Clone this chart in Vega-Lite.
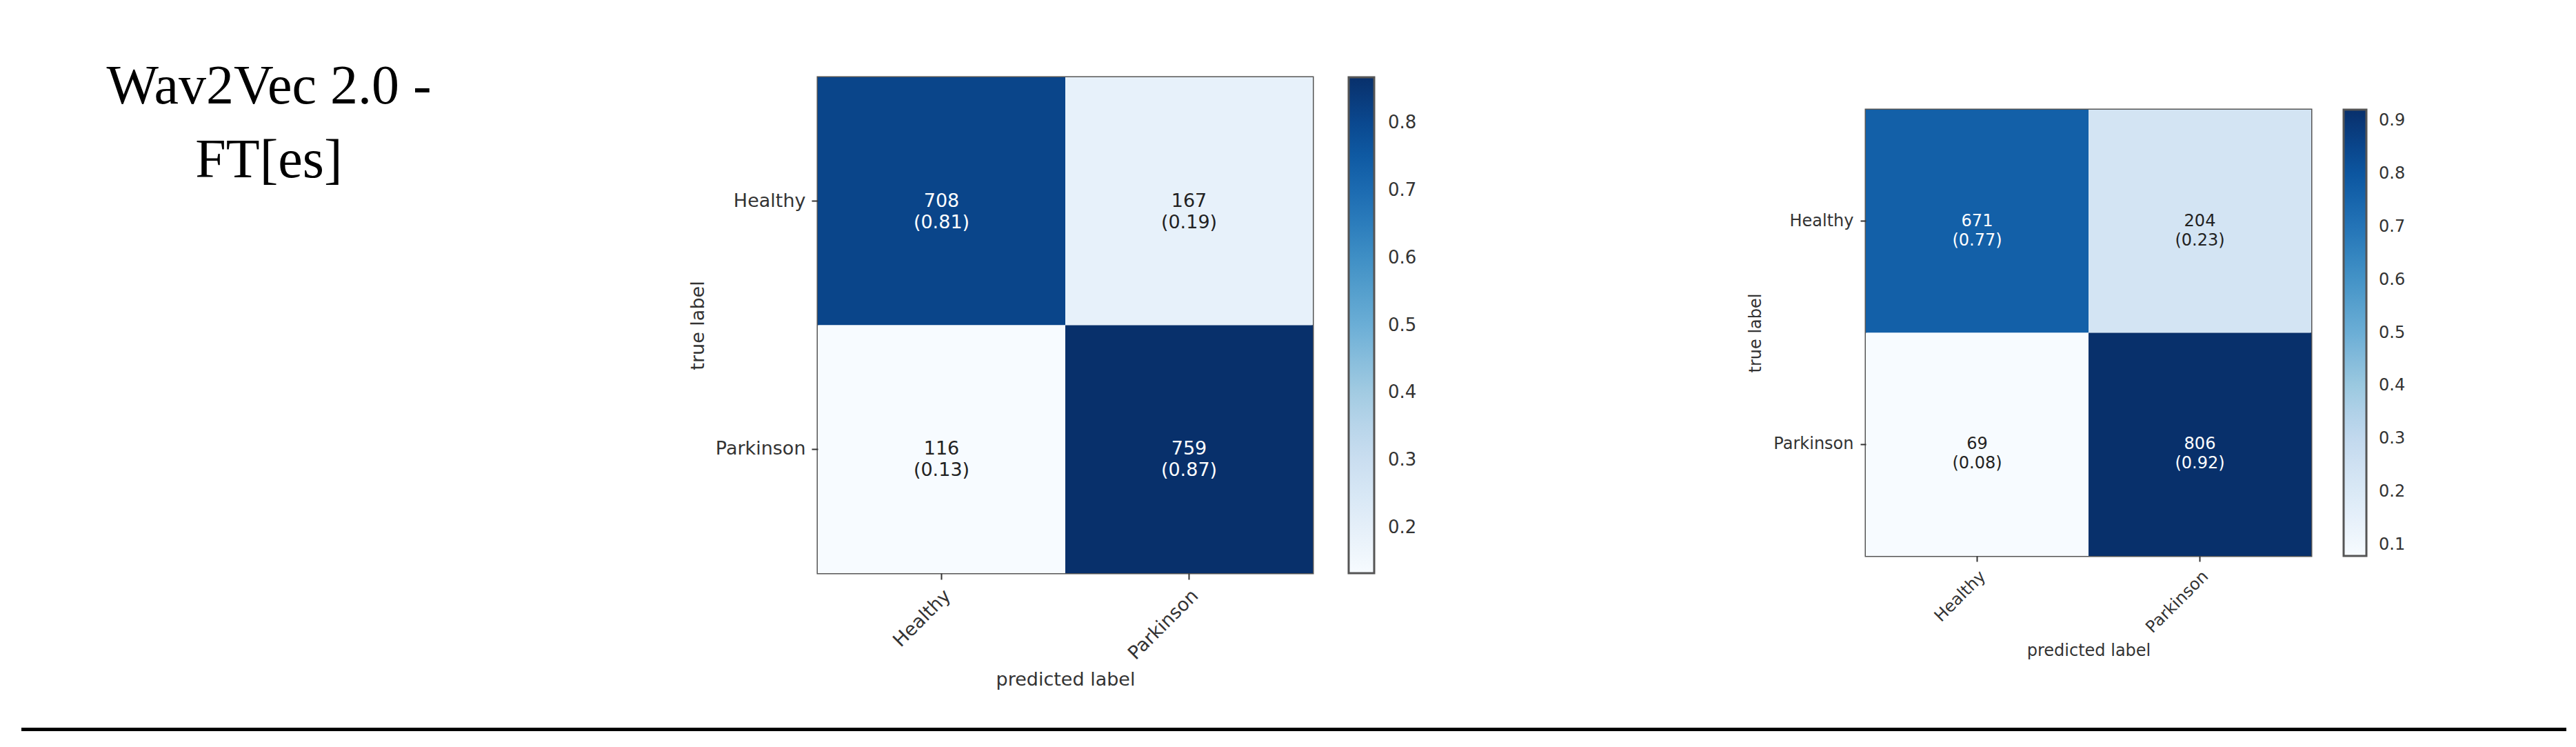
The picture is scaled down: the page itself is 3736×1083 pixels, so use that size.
{
  "$schema": "https://vega.github.io/schema/vega-lite/v6.json",
  "padding": {"left": 31, "top": 60, "right": 0, "bottom": 0},
  "background": "white",
  "bounds": "flush",
  "spacing": 995,
  "config": {
    "view": {"stroke": null},
    "font": "DejaVu Sans",
    "axis": {"grid": false, "domain": false, "tickColor": "#333", "tickWidth": 2, "labelColor": "#333", "titleColor": "#333", "titleFontWeight": "normal", "labelFont": "DejaVu Sans", "titleFont": "DejaVu Sans"},
    "legend": {"padding": 0, "labelColor": "#333", "labelFont": "DejaVu Sans"}
  },
  "resolve": {"scale": {"color": "independent"}, "legend": {"color": "independent"}},
  "vconcat": [
    {
      "bounds": "flush",
      "spacing": 2675,
      "resolve": {"scale": {"color": "independent"}, "legend": {"color": "independent"}},
      "hconcat": [
        {
          "bounds": "flush",
          "spacing": 437,
          "resolve": {"scale": {"color": "independent"}, "legend": {"color": "independent"}},
          "hconcat": [
            {
              "width": 718,
              "height": 180,
              "data": {"values": [{}]},
              "mark": {"type": "text", "text": ["Wav2Vec 2.0 -", "FT[es]"], "font": "Liberation Serif", "fontSize": 80, "lineHeight": 107, "align": "center", "baseline": "alphabetic", "color": "black"},
              "encoding": {}
            },
            {
              "bounds": "flush",
              "spacing": 0,
              "resolve": {"scale": {"color": "independent"}, "legend": {"color": "independent"}},
              "vconcat": [
                {"width": 718, "height": 52, "data": {"values": []}, "mark": "rect", "encoding": {}},
                {
                  "width": 718,
                  "height": 719,
                  "view": {"stroke": "#555", "strokeWidth": 3},
                  "data": {"values": [
                    {"actual": "Healthy", "predicted": "Healthy", "count": 708, "rate": 0.8091, "label": "708\n(0.81)"},
                    {"actual": "Healthy", "predicted": "Parkinson", "count": 167, "rate": 0.1909, "label": "167\n(0.19)"},
                    {"actual": "Parkinson", "predicted": "Healthy", "count": 116, "rate": 0.1326, "label": "116\n(0.13)"},
                    {"actual": "Parkinson", "predicted": "Parkinson", "count": 759, "rate": 0.8674, "label": "759\n(0.87)"}
                  ]},
                  "encoding": {
                    "x": {"field": "predicted", "type": "nominal", "sort": ["Healthy", "Parkinson"], "scale": {"paddingInner": 0, "paddingOuter": 0},
                      "axis": {"title": "predicted label", "labelAngle": -45, "labelFontSize": 27, "titleFontSize": 27, "tickSize": 9, "labelPadding": 10, "titlePadding": 12}},
                    "y": {"field": "actual", "type": "nominal", "sort": ["Healthy", "Parkinson"], "scale": {"paddingInner": 0, "paddingOuter": 0},
                      "axis": {"title": "true label", "labelFontSize": 27, "titleFontSize": 27, "tickSize": 9, "labelPadding": 9, "titlePadding": 11}}
                  },
                  "layer": [
                    {
                      "mark": "rect",
                      "encoding": {
                        "color": {"field": "rate", "type": "quantitative",
                          "scale": {"zero": false, "nice": false, "range": ["#f7fbff", "#deebf7", "#c6dbef", "#9ecae1", "#6baed6", "#4292c6", "#2171b5", "#08519c", "#08306b"]},
                          "legend": {"title": null, "orient": "right", "direction": "vertical", "type": "gradient", "offset": 52, "gradientLength": 719, "gradientThickness": 37, "values": [0.2, 0.3, 0.4, 0.5, 0.6, 0.7, 0.8], "format": ".1f", "labelFontSize": 26, "labelOffset": 20, "gradientStrokeColor": "#555", "gradientStrokeWidth": 3}}
                      }
                    },
                    {
                      "mark": {"type": "text", "lineBreak": "\n", "fontSize": 27, "lineHeight": 31, "baseline": "middle", "align": "center"},
                      "encoding": {
                        "text": {"field": "label", "type": "nominal"},
                        "color": {"condition": {"test": "datum.rate > 0.5", "value": "white"}, "value": "#222"}
                      }
                    }
                  ]
                }
              ]
            }
          ]
        },
        {
          "bounds": "flush",
          "spacing": 0,
          "resolve": {"scale": {"color": "independent"}, "legend": {"color": "independent"}},
          "vconcat": [
            {"width": 646, "height": 99, "data": {"values": []}, "mark": "rect", "encoding": {}},
            {
              "width": 646,
              "height": 647,
              "view": {"stroke": "#555", "strokeWidth": 3},
              "data": {"values": [
                {"actual": "Healthy", "predicted": "Healthy", "count": 671, "rate": 0.7669, "label": "671\n(0.77)"},
                {"actual": "Healthy", "predicted": "Parkinson", "count": 204, "rate": 0.2331, "label": "204\n(0.23)"},
                {"actual": "Parkinson", "predicted": "Healthy", "count": 69, "rate": 0.0789, "label": "69\n(0.08)"},
                {"actual": "Parkinson", "predicted": "Parkinson", "count": 806, "rate": 0.9211, "label": "806\n(0.92)"}
              ]},
              "encoding": {
                "x": {"field": "predicted", "type": "nominal", "sort": ["Healthy", "Parkinson"], "scale": {"paddingInner": 0, "paddingOuter": 0},
                  "axis": {"title": "predicted label", "labelAngle": -45, "labelFontSize": 24, "titleFontSize": 24, "tickSize": 8, "labelPadding": 9, "titlePadding": 9}},
                "y": {"field": "actual", "type": "nominal", "sort": ["Healthy", "Parkinson"], "scale": {"paddingInner": 0, "paddingOuter": 0},
                  "axis": {"title": "true label", "labelFontSize": 24, "titleFontSize": 24, "tickSize": 8, "labelPadding": 10, "titlePadding": 13}}
              },
              "layer": [
                {
                  "mark": "rect",
                  "encoding": {
                    "color": {"field": "rate", "type": "quantitative",
                      "scale": {"zero": false, "nice": false, "range": ["#f7fbff", "#deebf7", "#c6dbef", "#9ecae1", "#6baed6", "#4292c6", "#2171b5", "#08519c", "#08306b"]},
                      "legend": {"title": null, "orient": "right", "direction": "vertical", "type": "gradient", "offset": 47, "gradientLength": 647, "gradientThickness": 33, "values": [0.1, 0.2, 0.3, 0.4, 0.5, 0.6, 0.7, 0.8, 0.9], "format": ".1f", "labelFontSize": 24, "labelOffset": 18, "gradientStrokeColor": "#555", "gradientStrokeWidth": 3}}
                  }
                },
                {
                  "mark": {"type": "text", "lineBreak": "\n", "fontSize": 24, "lineHeight": 28, "baseline": "middle", "align": "center"},
                  "encoding": {
                    "text": {"field": "label", "type": "nominal"},
                    "color": {"condition": {"test": "datum.rate > 0.5", "value": "white"}, "value": "#222"}
                  }
                }
              ]
            }
          ]
        }
      ]
    },
    {
      "width": 3691,
      "height": 5,
      "view": {"fill": "black", "stroke": null},
      "data": {"values": [{}]},
      "mark": {"type": "rect", "color": "black"},
      "encoding": {}
    }
  ]
}
